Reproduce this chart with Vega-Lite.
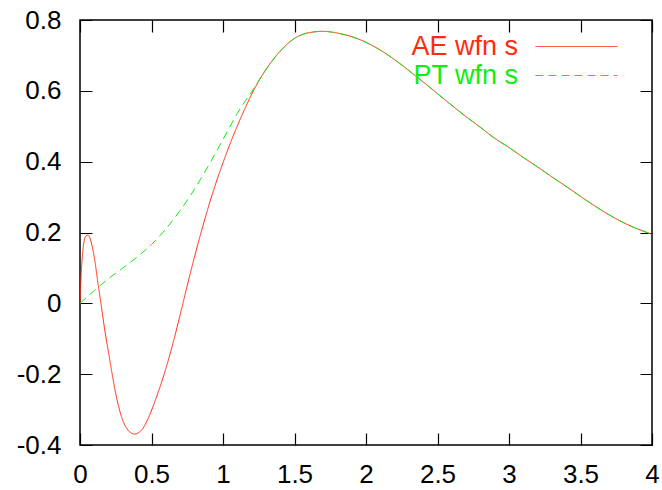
{
  "$schema": "https://vega.github.io/schema/vega-lite/v6.json",
  "width": 572,
  "height": 425,
  "autosize": "none",
  "padding": {"left": 80, "top": 20, "right": 10, "bottom": 45},
  "background": "white",
  "config": {
    "view": {"stroke": "#000000", "strokeWidth": 1.5},
    "font": "Liberation Sans",
    "axis": {
      "domain": false,
      "ticks": false,
      "tickSize": 0,
      "grid": true,
      "gridColor": "#000000",
      "gridWidth": 1.2,
      "gridOpacity": 1,
      "gridCap": "butt",
      "labelFont": "Liberation Sans",
      "labelFontSize": 26,
      "labelColor": "#000000",
      "title": null
    }
  },
  "data": {
    "values": [
      {"s": "AE wfn s", "x": 0, "y": 0},
      {"s": "AE wfn s", "x": 0.008, "y": 0.08},
      {"s": "AE wfn s", "x": 0.018, "y": 0.14},
      {"s": "AE wfn s", "x": 0.03, "y": 0.178},
      {"s": "AE wfn s", "x": 0.042, "y": 0.19},
      {"s": "AE wfn s", "x": 0.054, "y": 0.193},
      {"s": "AE wfn s", "x": 0.066, "y": 0.188},
      {"s": "AE wfn s", "x": 0.08, "y": 0.17},
      {"s": "AE wfn s", "x": 0.1, "y": 0.13},
      {"s": "AE wfn s", "x": 0.128, "y": 0.05},
      {"s": "AE wfn s", "x": 0.15, "y": -0.01},
      {"s": "AE wfn s", "x": 0.175, "y": -0.08},
      {"s": "AE wfn s", "x": 0.2, "y": -0.14},
      {"s": "AE wfn s", "x": 0.225, "y": -0.2},
      {"s": "AE wfn s", "x": 0.25, "y": -0.255},
      {"s": "AE wfn s", "x": 0.29, "y": -0.32},
      {"s": "AE wfn s", "x": 0.33, "y": -0.355},
      {"s": "AE wfn s", "x": 0.38, "y": -0.369},
      {"s": "AE wfn s", "x": 0.43, "y": -0.358},
      {"s": "AE wfn s", "x": 0.48, "y": -0.322},
      {"s": "AE wfn s", "x": 0.53, "y": -0.27},
      {"s": "AE wfn s", "x": 0.59, "y": -0.198},
      {"s": "AE wfn s", "x": 0.65, "y": -0.113},
      {"s": "AE wfn s", "x": 0.7, "y": -0.033},
      {"s": "AE wfn s", "x": 0.75, "y": 0.05},
      {"s": "AE wfn s", "x": 0.8, "y": 0.13},
      {"s": "AE wfn s", "x": 0.85, "y": 0.205},
      {"s": "AE wfn s", "x": 0.9, "y": 0.275},
      {"s": "AE wfn s", "x": 0.95, "y": 0.339},
      {"s": "AE wfn s", "x": 1.0, "y": 0.397},
      {"s": "AE wfn s", "x": 1.05, "y": 0.451},
      {"s": "AE wfn s", "x": 1.1, "y": 0.501},
      {"s": "AE wfn s", "x": 1.15, "y": 0.547},
      {"s": "AE wfn s", "x": 1.2, "y": 0.59},
      {"s": "AE wfn s", "x": 1.3, "y": 0.66},
      {"s": "AE wfn s", "x": 1.4, "y": 0.712},
      {"s": "AE wfn s", "x": 1.5, "y": 0.748},
      {"s": "AE wfn s", "x": 1.6, "y": 0.764},
      {"s": "AE wfn s", "x": 1.7, "y": 0.768},
      {"s": "AE wfn s", "x": 1.8, "y": 0.763},
      {"s": "AE wfn s", "x": 1.9, "y": 0.753},
      {"s": "AE wfn s", "x": 2.0, "y": 0.737},
      {"s": "AE wfn s", "x": 2.1, "y": 0.715},
      {"s": "AE wfn s", "x": 2.2, "y": 0.688},
      {"s": "AE wfn s", "x": 2.3, "y": 0.657},
      {"s": "AE wfn s", "x": 2.4, "y": 0.625},
      {"s": "AE wfn s", "x": 2.5, "y": 0.592},
      {"s": "AE wfn s", "x": 2.6, "y": 0.559},
      {"s": "AE wfn s", "x": 2.7, "y": 0.527},
      {"s": "AE wfn s", "x": 2.8, "y": 0.497},
      {"s": "AE wfn s", "x": 2.9, "y": 0.466},
      {"s": "AE wfn s", "x": 3.0, "y": 0.44},
      {"s": "AE wfn s", "x": 3.1, "y": 0.412},
      {"s": "AE wfn s", "x": 3.2, "y": 0.385},
      {"s": "AE wfn s", "x": 3.3, "y": 0.357},
      {"s": "AE wfn s", "x": 3.4, "y": 0.33},
      {"s": "AE wfn s", "x": 3.5, "y": 0.302},
      {"s": "AE wfn s", "x": 3.6, "y": 0.275},
      {"s": "AE wfn s", "x": 3.7, "y": 0.25},
      {"s": "AE wfn s", "x": 3.8, "y": 0.228},
      {"s": "AE wfn s", "x": 3.9, "y": 0.21},
      {"s": "AE wfn s", "x": 4.0, "y": 0.195},
      {"s": "PT wfn s", "x": 0, "y": 0},
      {"s": "PT wfn s", "x": 0.1, "y": 0.036},
      {"s": "PT wfn s", "x": 0.2, "y": 0.07},
      {"s": "PT wfn s", "x": 0.3, "y": 0.1},
      {"s": "PT wfn s", "x": 0.4, "y": 0.131},
      {"s": "PT wfn s", "x": 0.5, "y": 0.166},
      {"s": "PT wfn s", "x": 0.6, "y": 0.21},
      {"s": "PT wfn s", "x": 0.7, "y": 0.262},
      {"s": "PT wfn s", "x": 0.8, "y": 0.322},
      {"s": "PT wfn s", "x": 0.9, "y": 0.39},
      {"s": "PT wfn s", "x": 1.0, "y": 0.463},
      {"s": "PT wfn s", "x": 1.05, "y": 0.5},
      {"s": "PT wfn s", "x": 1.1, "y": 0.536},
      {"s": "PT wfn s", "x": 1.15, "y": 0.568},
      {"s": "PT wfn s", "x": 1.2, "y": 0.597},
      {"s": "PT wfn s", "x": 1.3, "y": 0.66},
      {"s": "PT wfn s", "x": 1.4, "y": 0.712},
      {"s": "PT wfn s", "x": 1.5, "y": 0.748},
      {"s": "PT wfn s", "x": 1.6, "y": 0.764},
      {"s": "PT wfn s", "x": 1.7, "y": 0.768},
      {"s": "PT wfn s", "x": 1.8, "y": 0.763},
      {"s": "PT wfn s", "x": 1.9, "y": 0.753},
      {"s": "PT wfn s", "x": 2.0, "y": 0.737},
      {"s": "PT wfn s", "x": 2.1, "y": 0.715},
      {"s": "PT wfn s", "x": 2.2, "y": 0.688},
      {"s": "PT wfn s", "x": 2.3, "y": 0.657},
      {"s": "PT wfn s", "x": 2.4, "y": 0.625},
      {"s": "PT wfn s", "x": 2.5, "y": 0.592},
      {"s": "PT wfn s", "x": 2.6, "y": 0.559},
      {"s": "PT wfn s", "x": 2.7, "y": 0.527},
      {"s": "PT wfn s", "x": 2.8, "y": 0.497},
      {"s": "PT wfn s", "x": 2.9, "y": 0.466},
      {"s": "PT wfn s", "x": 3.0, "y": 0.44},
      {"s": "PT wfn s", "x": 3.1, "y": 0.412},
      {"s": "PT wfn s", "x": 3.2, "y": 0.385},
      {"s": "PT wfn s", "x": 3.3, "y": 0.357},
      {"s": "PT wfn s", "x": 3.4, "y": 0.33},
      {"s": "PT wfn s", "x": 3.5, "y": 0.302},
      {"s": "PT wfn s", "x": 3.6, "y": 0.275},
      {"s": "PT wfn s", "x": 3.7, "y": 0.25},
      {"s": "PT wfn s", "x": 3.8, "y": 0.228},
      {"s": "PT wfn s", "x": 3.9, "y": 0.21},
      {"s": "PT wfn s", "x": 4.0, "y": 0.195}
    ]
  },
  "mark": {"type": "line", "strokeWidth": 1, "interpolate": "monotone", "clip": true},
  "encoding": {
    "x": {
      "field": "x", "type": "quantitative",
      "scale": {"domain": [0, 4], "nice": false, "zero": false},
      "axis": {"orient": "bottom", "values": [0, 0.5, 1, 1.5, 2, 2.5, 3, 3.5, 4], "labelExpr": "'' + datum.value", "labelPadding": 16, "labelFlush": false, "gridDash": [12, 401, 12, 0]}
    },
    "y": {
      "field": "y", "type": "quantitative",
      "scale": {"domain": [-0.4, 0.8], "nice": false, "zero": false},
      "axis": {"orient": "left", "values": [-0.4, -0.2, 0, 0.2, 0.4, 0.6, 0.8], "labelExpr": "'' + datum.value", "labelPadding": 19, "labelFlush": false, "gridDash": [12, 548, 12, 0]}
    },
    "color": {
      "field": "s", "type": "nominal",
      "scale": {"domain": ["AE wfn s", "PT wfn s"], "range": ["#ff2a10", "#10ee10"]},
      "legend": {
        "orient": "none",
        "legendX": 455,
        "legendY": 12,
        "title": null,
        "symbolType": "stroke",
        "symbolSize": 6724,
        "symbolStrokeWidth": 1,
        "clipHeight": 29,
        "labelFont": "Liberation Sans",
        "labelFontSize": 27,
        "labelAlign": "right",
        "labelOffset": -100,
        "labelColor": {"expr": "datum.label === 'AE wfn s' ? '#ff2a10' : '#10ee10'"},
        "padding": 0,
        "rowPadding": 0,
        "encode": {"entries": {"update": {"width": {"value": 100}, "height": {"value": 29}}}}
      }
    },
    "strokeDash": {
      "field": "s", "type": "nominal",
      "scale": {"domain": ["AE wfn s", "PT wfn s"], "range": [[1, 0], [8, 5]]},
      "legend": null
    }
  }
}
